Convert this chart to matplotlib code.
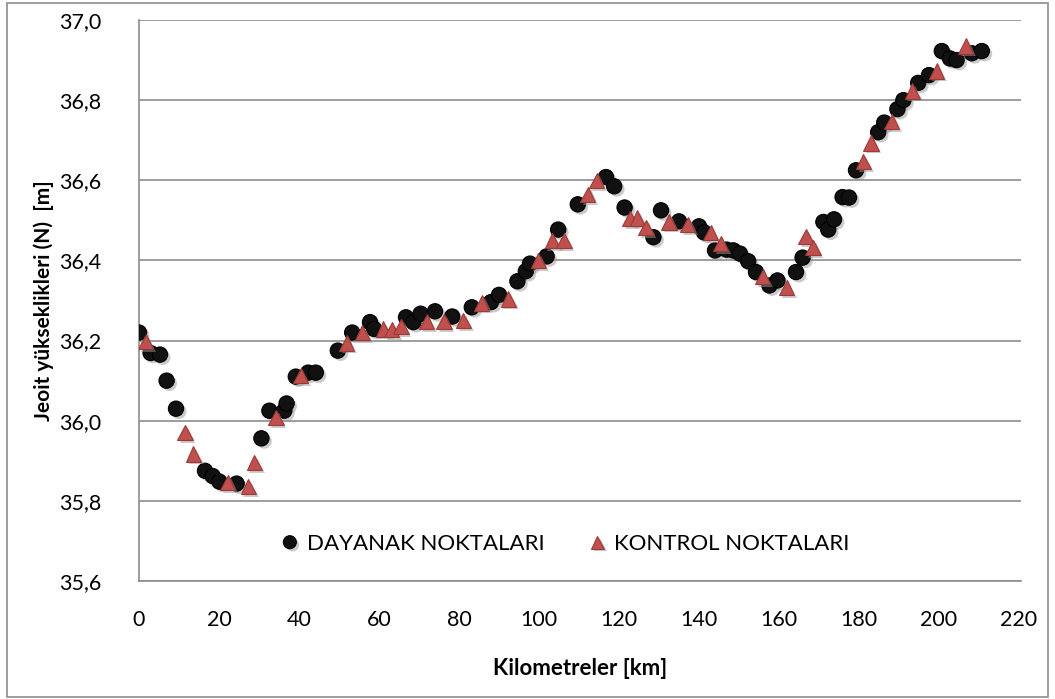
import matplotlib.pyplot as plt
import matplotlib.patheffects as pe
from matplotlib.patches import Rectangle
from matplotlib.ticker import FuncFormatter, MultipleLocator

# DAYANAK NOKTALARI (km, N in m)
dayanak_km = [0, 2.9, 5.25, 6.9, 9.25, 16.5, 18.4, 20.1, 24.4, 30.6, 32.6, 36.3, 36.9,
              39.2, 42.3, 44.2, 49.7, 53.3, 57.75, 58.75, 66.75, 68.6, 70.4, 74, 78.3,
              83.2, 88, 90, 94.6, 96.7, 97.75, 101.9, 104.8, 109.7, 116.75, 118.8, 121.4,
              128.6, 130.5, 135, 140, 141.25, 144, 146.9, 148.6, 150.25, 152.3, 154.25,
              157.6, 159.6, 164.25, 165.9, 171.1, 172.3, 173.75, 175.9, 177.5, 179.25,
              184.8, 186.3, 189.6, 191.1, 194.8, 197.5, 200.7, 202.75, 204.4, 208.2, 210.7]
dayanak_n = [36.22, 36.169, 36.165, 36.10, 36.03, 35.875, 35.862, 35.848, 35.843, 35.956,
             36.025, 36.025, 36.043, 36.11, 36.12, 36.12, 36.175, 36.22, 36.246, 36.229,
             36.258, 36.246, 36.267, 36.273, 36.26, 36.283, 36.296, 36.314, 36.348, 36.373,
             36.392, 36.41, 36.477, 36.54, 36.608, 36.585, 36.532, 36.458, 36.525, 36.4975,
             36.485, 36.47, 36.425, 36.427, 36.425, 36.417, 36.398, 36.371, 36.3375, 36.35,
             36.371, 36.407, 36.496, 36.477, 36.5025, 36.558, 36.557, 36.625, 36.72, 36.744,
             36.7775, 36.80, 36.843, 36.8625, 36.9225, 36.904, 36.90, 36.917, 36.9225]

# KONTROL NOKTALARI
kontrol_km = [1.7, 11.5, 13.6, 22.2, 27.3, 28.8, 34.25, 40.4, 51.9, 55.8, 61.1, 63.2, 65.5,
              71.9, 76.25, 81.1, 85.7, 92.3, 99.8, 103.3, 106.25, 112.2, 114.4, 122.75,
              124.6, 126.75, 132.5, 137.2, 142.9, 145.4, 155.9, 161.9, 166.75, 168.5,
              181.1, 183, 188.2, 193.3, 199.4, 206.7]
kontrol_n = [36.198, 35.97, 35.917, 35.846, 35.835, 35.896, 36.008, 36.113, 36.194, 36.22,
             36.229, 36.227, 36.235, 36.2475, 36.2475, 36.25, 36.294, 36.304, 36.40, 36.45,
             36.45, 36.565, 36.60, 36.504, 36.506, 36.483, 36.496, 36.489, 36.47, 36.443,
             36.36, 36.332, 36.46, 36.433, 36.646, 36.693, 36.746, 36.823, 36.873, 36.935]

plt.rcParams['font.family'] = ['Lato', 'DejaVu Sans']

W, H = 1055, 699
fig = plt.figure(figsize=(W / 100, H / 100), dpi=100)
# outer chart border
fig.patches.append(Rectangle((7 / W, 2 / H), 1041 / W, 694 / H, transform=fig.transFigure,
                             fill=False, edgecolor='#8c8c8c', linewidth=1.2))

ax = fig.add_axes([139 / W, (H - 581) / H, 882 / W, 561 / H])

shadow = [pe.SimplePatchShadow(offset=(2, -2), shadow_rgbFace='#999999', alpha=0.5), pe.Normal()]
ax.plot(dayanak_km, dayanak_n, linestyle='none', marker='o', markersize=11,
        markerfacecolor='#111111', markeredgecolor='#000000', markeredgewidth=0.8,
        label='DAYANAK NOKTALARI', path_effects=shadow, zorder=3)
ax.plot(kontrol_km, kontrol_n, linestyle='none', marker='^', markersize=11,
        markerfacecolor='#c0504d', markeredgecolor='#9a3b39', markeredgewidth=0.8,
        label='KONTROL NOKTALARI', path_effects=shadow, zorder=4)

ax.set_xlim(0, 220.5)
ax.set_ylim(35.6, 37.0)
ax.xaxis.set_major_locator(MultipleLocator(20))
ax.yaxis.set_major_locator(MultipleLocator(0.2))
ax.yaxis.set_major_formatter(FuncFormatter(lambda v, p: f'{v:.1f}'.replace('.', ',')))
ax.grid(axis='y', color='#8c8c8c', linewidth=1.2)
ax.set_axisbelow(True)
for s in ['top', 'right']:
    ax.spines[s].set_visible(False)
for s in ['left', 'bottom']:
    ax.spines[s].set_color('#8c8c8c')
    ax.spines[s].set_linewidth(1.2)
ax.tick_params(length=0, labelsize=15.5, colors='black')
ax.tick_params(axis='y', pad=27)
ax.tick_params(axis='x', pad=21)

ax.set_xlabel('Kilometreler [km]', fontsize=16, fontweight='bold', labelpad=20)
ax.set_ylabel('Jeoit yükseklikleri (N)  [m]', fontsize=15, fontweight='bold', labelpad=4)

ax.legend(loc='center', bbox_to_anchor=(0.482, 0.066), ncol=2, frameon=False,
          fontsize=16, handletextpad=0.25, columnspacing=1.9, handlelength=1.0,
          markerscale=0.85)

fig.savefig('out.png', dpi=100)
